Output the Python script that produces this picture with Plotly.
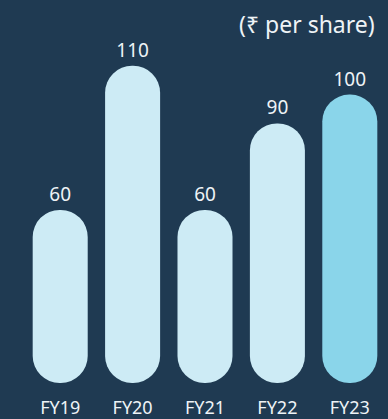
import plotly.graph_objects as go

categories = ["FY19", "FY20", "FY21", "FY22", "FY23"]
values = [60, 110, 60, 90, 100]
bar_colors = ["#cdebf5", "#cdebf5", "#cdebf5", "#cdebf5", "#8ad5ea"]
unit_label = "(₹ per share)"

BG = "#1f3a52"
TXT = "#eef3f6"
FONT = "Noto Sans, Open Sans, sans-serif"

fig = go.Figure()

fig.add_trace(go.Bar(
    x=categories,
    y=values,
    base=[0] * len(values),
    width=0.76,
    marker=dict(color=bar_colors, cornerradius="50%", line=dict(width=0)),
    text=[str(v) for v in values],
    textposition="outside",
    textfont=dict(family=FONT, size=19, color=TXT),
    cliponaxis=False,
    hoverinfo="skip",
    showlegend=False,
))

fig.add_annotation(
    text=unit_label, xref="paper", yref="paper",
    x=0.975, y=0.9377, xanchor="right", yanchor="middle",
    showarrow=False, font=dict(family=FONT, size=23, color=TXT),
)

fig.update_layout(
    width=388, height=419,
    margin=dict(l=24, r=2, t=0, b=34),
    paper_bgcolor=BG, plot_bgcolor=BG,
    xaxis=dict(
        type="category", range=[-0.5, 4.5], showgrid=False, zeroline=False,
        showline=False, ticks="outside", ticklen=8, tickcolor="rgba(0,0,0,0)",
        tickfont=dict(family=FONT, size=18, color=TXT), fixedrange=True,
    ),
    yaxis=dict(range=[0, 132.8], visible=False, showgrid=False, zeroline=False,
               fixedrange=True),
)

fig.write_html("out.html", config={"displayModeBar": False},
               post_script="document.body.style.margin='0';")
